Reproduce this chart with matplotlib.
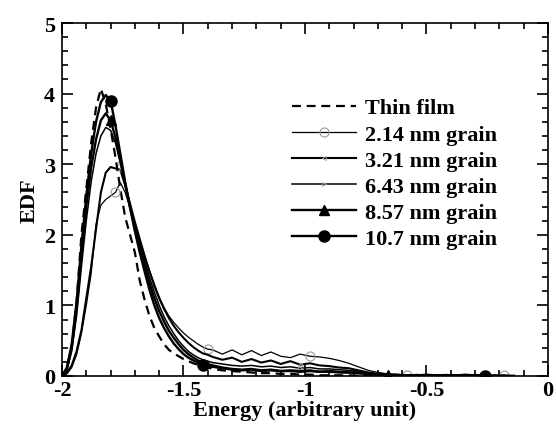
import matplotlib
matplotlib.use("Agg")
import matplotlib.pyplot as plt

plt.rcParams['font.family'] = ['Liberation Serif', 'DejaVu Serif']
plt.rcParams['font.weight'] = 'bold'
plt.rcParams['axes.unicode_minus'] = False

# Energy grid (arbitrary unit)
energy = [-2.00, -1.98, -1.96, -1.94, -1.92, -1.90, -1.88, -1.86, -1.84, -1.82,
          -1.80, -1.78, -1.76, -1.74, -1.72, -1.70, -1.68, -1.66, -1.64, -1.62,
          -1.60, -1.58, -1.56, -1.54, -1.52, -1.50, -1.48, -1.46, -1.44, -1.42,
          -1.40,
          -1.38, -1.34, -1.30, -1.26, -1.22, -1.18, -1.14, -1.10, -1.06, -1.02,
          -0.98, -0.94, -0.90, -0.86, -0.82, -0.78, -0.74, -0.70, -0.66, -0.62,
          -0.58, -0.54, -0.50, -0.46, -0.42, -0.38, -0.34, -0.30, -0.26, -0.22,
          -0.18, -0.14]

thin_film = [0.00, 0.10, 0.42, 1.05, 2.00, 2.65, 3.30, 3.80, 4.07, 3.85,
             3.50, 3.10, 2.65, 2.25, 2.00, 1.75, 1.35, 1.08, 0.85, 0.68,
             0.56, 0.45, 0.37, 0.32, 0.28, 0.24, 0.21, 0.18, 0.16, 0.14,
             0.12,
             0.10, 0.08, 0.07, 0.06, 0.05, 0.04, 0.04, 0.03, 0.03, 0.02,
             0.02, 0.01, 0.01, 0.01, 0.01, 0.00, 0.00, 0.00, 0.00, 0.00,
             0.00, 0.00, 0.00, 0.00, 0.00, 0.00, 0.00, 0.00, 0.00, 0.00,
             0.00, 0.00]

g214 = [0.00, 0.03, 0.12, 0.30, 0.60, 1.00, 1.45, 2.15, 2.42, 2.50,
        2.55, 2.60, 2.74, 2.60, 2.38, 2.15, 1.92, 1.70, 1.50, 1.30,
        1.12, 0.97, 0.85, 0.76, 0.68, 0.61, 0.55, 0.50, 0.45, 0.41,
        0.38,
        0.37, 0.31, 0.37, 0.30, 0.36, 0.29, 0.34, 0.28, 0.26, 0.31,
        0.28, 0.27, 0.25, 0.22, 0.18, 0.13, 0.08, 0.05, 0.03, 0.02,
        0.01, 0.02, 0.01, 0.02, 0.01, 0.01, 0.02, 0.01, 0.01, 0.00,
        0.01, 0.00]

g321 = [0.00, 0.04, 0.15, 0.35, 0.65, 1.10, 1.55, 2.08, 2.60, 2.88,
        2.96, 2.94, 2.92, 2.70, 2.44, 2.18, 1.94, 1.70, 1.48, 1.28,
        1.10, 0.95, 0.82, 0.71, 0.62, 0.54, 0.47, 0.41, 0.36, 0.32,
        0.30,
        0.27, 0.23, 0.26, 0.20, 0.24, 0.19, 0.22, 0.17, 0.21, 0.16,
        0.18, 0.15, 0.14, 0.12, 0.11, 0.08, 0.05, 0.03, 0.02, 0.02,
        0.01, 0.01, 0.02, 0.01, 0.01, 0.01, 0.02, 0.01, 0.00, 0.01,
        0.00, 0.00]

g643 = [0.00, 0.08, 0.35, 0.85, 1.55, 2.20, 2.75, 3.15, 3.40, 3.52,
        3.48, 3.30, 3.02, 2.72, 2.42, 2.14, 1.88, 1.63, 1.40, 1.19,
        1.00, 0.84, 0.71, 0.60, 0.50, 0.42, 0.35, 0.30, 0.26, 0.23,
        0.21,
        0.19, 0.17, 0.15, 0.14, 0.15, 0.13, 0.14, 0.12, 0.13, 0.11,
        0.12, 0.10, 0.10, 0.09, 0.08, 0.06, 0.04, 0.03, 0.02, 0.02,
        0.01, 0.02, 0.01, 0.01, 0.02, 0.01, 0.01, 0.01, 0.01, 0.00,
        0.01, 0.00]

g857 = [0.00, 0.10, 0.40, 0.95, 1.70, 2.40, 2.95, 3.35, 3.62, 3.72,
        3.62, 3.38, 3.05, 2.72, 2.40, 2.10, 1.82, 1.56, 1.32, 1.10,
        0.92, 0.77, 0.64, 0.54, 0.45, 0.37, 0.31, 0.26, 0.22, 0.19,
        0.17,
        0.15, 0.12, 0.10, 0.09, 0.10, 0.08, 0.09, 0.07, 0.08, 0.07,
        0.08, 0.06, 0.07, 0.06, 0.05, 0.04, 0.03, 0.02, 0.01, 0.01,
        0.01, 0.01, 0.00, 0.01, 0.01, 0.00, 0.01, 0.01, 0.00, 0.00,
        0.00, 0.00]

g107 = [0.00, 0.12, 0.45, 1.05, 1.85, 2.55, 3.15, 3.60, 3.88, 3.98,
        3.90, 3.55, 3.15, 2.75, 2.38, 2.05, 1.75, 1.48, 1.22, 1.00,
        0.82, 0.68, 0.56, 0.46, 0.38, 0.31, 0.26, 0.22, 0.19, 0.16,
        0.14,
        0.13, 0.11, 0.09, 0.08, 0.09, 0.07, 0.08, 0.07, 0.07, 0.06,
        0.07, 0.06, 0.06, 0.05, 0.05, 0.04, 0.03, 0.02, 0.01, 0.01,
        0.01, 0.00, 0.01, 0.01, 0.00, 0.01, 0.01, 0.00, 0.00, 0.00,
        0.00, 0.00]

labels = ["Thin film", "2.14 nm grain", "3.21 nm grain", "6.43 nm grain",
          "8.57 nm grain", "10.7 nm grain"]

fig = plt.figure(figsize=(5.56, 4.31), dpi=100)
ax = fig.add_axes([0.1115, 0.1253, 0.8741, 0.819])

ax.plot(energy, thin_film, color='black', lw=1.6, ls=(0, (4, 2.6)), label=labels[0])
ax.plot(energy, g214, color='black', lw=0.9, marker='o', ms=6.5, mfc='none',
        mec='#9a9a9a', mew=0.8, markevery=[11, 30, 41, 51, 61], label=labels[1])
ax.plot(energy, g321, color='black', lw=1.5, marker='<', ms=3, mfc='none',
        mec='#aaaaaa', mew=0.6, markevery=[12, 40], label=labels[2])
ax.plot(energy, g643, color='black', lw=1.1, marker='>', ms=3, mfc='none',
        mec='#aaaaaa', mew=0.6, markevery=[12, 40], label=labels[3])
ax.plot(energy, g107, color='black', lw=1.7, marker='o', ms=8, mfc='black',
        mec='black', markevery=[10, 29, 59], label=labels[5])
ax.plot(energy, g857, color='black', lw=1.7, marker='^', ms=7.5, mfc='black',
        mec='black', markevery=[10, 49, 59], label=labels[4])

ax.set_xlim(-2, 0)
ax.set_ylim(0, 5)
ax.set_xticks([-2, -1.5, -1, -0.5, 0])
ax.set_xticklabels(["-2", "-1.5", "-1", "-0.5", "0"])
ax.set_xticks([-2 + 0.1 * i for i in range(21)], minor=True)
ax.set_yticks([0, 1, 2, 3, 4, 5])
ax.set_yticks([0.2 * i for i in range(26)], minor=True)

ax.tick_params(which='both', direction='in', top=True, right=True, width=1.2,
               labelsize=16)
ax.tick_params(which='major', length=8)
ax.tick_params(which='minor', length=4.3)
ax.tick_params(axis='x', pad=3)
ax.tick_params(axis='y', pad=5)
for s in ax.spines.values():
    s.set_linewidth(1.2)

ax.set_xlabel("Energy (arbitrary unit)", fontsize=16, fontweight='bold', labelpad=0)
ax.set_ylabel("EDF", fontsize=16, fontweight='bold', labelpad=3)

handles, labs = ax.get_legend_handles_labels()
order = [labs.index(l) for l in labels]
leg = ax.legend([handles[i] for i in order], [labs[i] for i in order],
                loc='upper left', bbox_to_anchor=(0.473, 0.788), frameon=False,
                borderpad=0, borderaxespad=0, handlelength=2.9,
                handletextpad=0.4, labelspacing=0.25,
                prop={'family': 'Liberation Serif', 'weight': 'bold', 'size': 16})

fig.savefig("out.png", dpi=100)
